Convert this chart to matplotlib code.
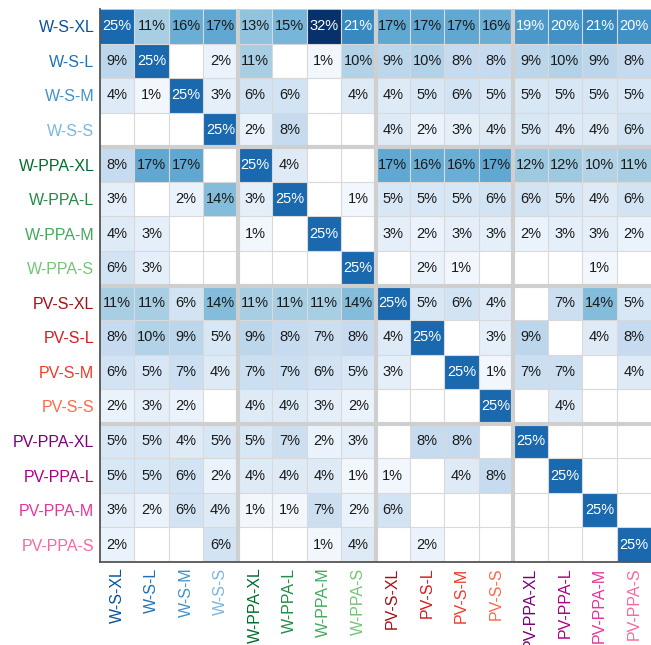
import numpy as np
import matplotlib.pyplot as plt

plt.rcParams['font.family'] = ['Liberation Sans', 'DejaVu Sans']

labels = ["W-S-XL", "W-S-L", "W-S-M", "W-S-S",
          "W-PPA-XL", "W-PPA-L", "W-PPA-M", "W-PPA-S",
          "PV-S-XL", "PV-S-L", "PV-S-M", "PV-S-S",
          "PV-PPA-XL", "PV-PPA-L", "PV-PPA-M", "PV-PPA-S"]

label_colors = ["#08519c", "#2171b5", "#4292c6", "#7ab6de",
                "#006d2c", "#238b45", "#41ab5d", "#74c476",
                "#a50f15", "#d7191f", "#ef3b2c", "#fb6a4a",
                "#7a0177", "#ae017e", "#e7359a", "#f768a1"]

# percentages, 0 = empty cell
pct = np.array([
    [25, 11, 16, 17, 13, 15, 32, 21, 17, 17, 17, 16, 19, 20, 21, 20],
    [9, 25, 0, 2, 11, 0, 1, 10, 9, 10, 8, 8, 9, 10, 9, 8],
    [4, 1, 25, 3, 6, 6, 0, 4, 4, 5, 6, 5, 5, 5, 5, 5],
    [0, 0, 0, 25, 2, 8, 0, 0, 4, 2, 3, 4, 5, 4, 4, 6],
    [8, 17, 17, 0, 25, 4, 0, 0, 17, 16, 16, 17, 12, 12, 10, 11],
    [3, 0, 2, 14, 3, 25, 0, 1, 5, 5, 5, 6, 6, 5, 4, 6],
    [4, 3, 0, 0, 1, 0, 25, 0, 3, 2, 3, 3, 2, 3, 3, 2],
    [6, 3, 0, 0, 0, 0, 0, 25, 0, 2, 1, 0, 0, 0, 1, 0],
    [11, 11, 6, 14, 11, 11, 11, 14, 25, 5, 6, 4, 0, 7, 14, 5],
    [8, 10, 9, 5, 9, 8, 7, 8, 4, 25, 0, 3, 9, 0, 4, 8],
    [6, 5, 7, 4, 7, 7, 6, 5, 3, 0, 25, 1, 7, 7, 0, 4],
    [2, 3, 2, 0, 4, 4, 3, 2, 0, 0, 0, 25, 0, 4, 0, 0],
    [5, 5, 4, 5, 5, 7, 2, 3, 0, 8, 8, 0, 25, 0, 0, 0],
    [5, 5, 6, 2, 4, 4, 4, 1, 1, 0, 4, 8, 0, 25, 0, 0],
    [3, 2, 6, 4, 1, 1, 7, 2, 6, 0, 0, 0, 0, 0, 25, 0],
    [2, 0, 0, 6, 0, 0, 1, 4, 0, 2, 0, 0, 0, 0, 0, 25],
], dtype=float)

n = len(labels)
data = np.ma.masked_where(pct == 0, pct)

fig = plt.figure(figsize=(6.51, 6.45), dpi=100)
ax = fig.add_axes([100 / 651, 83 / 645, 551 / 651, 553 / 645])

ax.pcolormesh(np.arange(n + 1), np.arange(n + 1), data,
              cmap="Blues", vmin=0, vmax=32)
ax.set_xlim(0, n)
ax.set_ylim(n, 0)

# thin cell borders
for k in range(1, n):
    ax.axvline(k, color="#d9d9d9", lw=0.8)
    ax.axhline(k, color="#d9d9d9", lw=0.8)
ax.axhline(0, color="#d9d9d9", lw=1.2)

for i in range(n):
    for j in range(n):
        v = pct[i, j]
        if v > 0:
            ax.text(j + 0.5, i + 0.5, f"{int(v)}%", ha="center", va="center",
                    fontsize=10.5, color="white" if v > 18 else "#1a1a1a")

# group separators
for k in (4, 8, 12):
    ax.axvline(k, color="#cfcfcf", lw=3)
    ax.axhline(k, color="#cfcfcf", lw=3)

ax.set_xticks(np.arange(n) + 0.5)
ax.set_yticks(np.arange(n) + 0.5)
ax.set_xticklabels(labels, rotation=90, fontsize=11.5)
ax.set_yticklabels(labels, fontsize=11.5)
for t, c in zip(ax.get_xticklabels(), label_colors):
    t.set_color(c)
for t, c in zip(ax.get_yticklabels(), label_colors):
    t.set_color(c)
ax.tick_params(length=0, pad=4)

for side in ("top", "right"):
    ax.spines[side].set_visible(False)
for side in ("left", "bottom"):
    ax.spines[side].set_color("#555555")
    ax.spines[side].set_linewidth(1.3)

fig.savefig("out.png", dpi=100)
